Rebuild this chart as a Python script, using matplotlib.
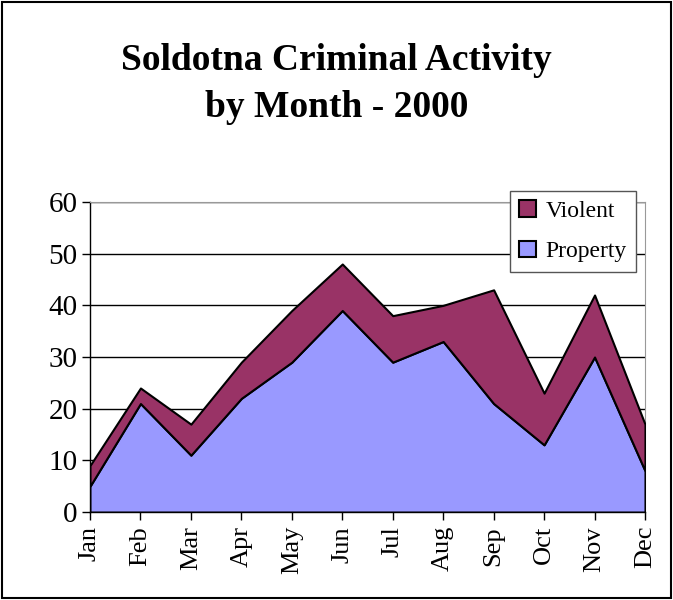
import matplotlib.pyplot as plt
from matplotlib.patches import Rectangle

months = ["Jan", "Feb", "Mar", "Apr", "May", "Jun", "Jul", "Aug", "Sep", "Oct", "Nov", "Dec"]
property_crimes = [5, 21, 11, 22, 29, 39, 29, 33, 21, 13, 30, 8]
violent_crimes = [4, 3, 6, 7, 10, 9, 9, 7, 22, 10, 12, 9]

plt.rcParams["font.family"] = ["Liberation Serif", "DejaVu Serif"]

fig = plt.figure(figsize=(6.73, 6.0), dpi=100)
ax = fig.add_axes([90 / 673, 1 - 512 / 600, 555 / 673, 310 / 600])

x = list(range(len(months)))
ax.stackplot(x, property_crimes, violent_crimes,
             colors=["#9999FF", "#993366"], edgecolor="black", linewidth=1.5,
             labels=["Property", "Violent"], zorder=3)

ax.set_xlim(0, len(months) - 1)
ax.set_ylim(0, 60)
ax.set_yticks(range(0, 61, 10))
ax.set_xticks(x)
ax.set_xticklabels(months, rotation=90, fontsize=19)
ax.tick_params(axis="y", labelsize=21, direction="out", length=6, width=1, pad=3)
ax.tick_params(axis="x", direction="out", length=6, width=1, pad=4)

ax.grid(axis="y", color="black", linewidth=1, zorder=1)
ax.spines["top"].set_color("#999999")
ax.spines["right"].set_color("#999999")
ax.spines["left"].set_linewidth(1)
ax.spines["bottom"].set_linewidth(1)

handles, labels = ax.get_legend_handles_labels()
leg = ax.legend(handles[::-1], labels[::-1], loc="upper right",
                bbox_to_anchor=(636 / 673, 1 - 191 / 600), bbox_transform=fig.transFigure,
                fontsize=17, fancybox=False, edgecolor="#555555", framealpha=1,
                handlelength=0.7, handleheight=0.7, labelspacing=0.8,
                borderpad=0.4, handletextpad=0.4, borderaxespad=0)
leg.get_frame().set_linewidth(1)

fig.text(0.5, 1 - 60 / 600, "Soldotna Criminal Activity", ha="center", va="center",
         fontsize=27, fontweight="bold")
fig.text(0.5, 1 - 108 / 600, "by Month - 2000", ha="center", va="center",
         fontsize=27, fontweight="bold")

fig.patches.append(Rectangle((2 / 673, 2 / 600), 669 / 673, 596 / 600,
                             transform=fig.transFigure, fill=False,
                             edgecolor="black", linewidth=1.5))

plt.savefig("out.png", dpi=100)
plt.close()
